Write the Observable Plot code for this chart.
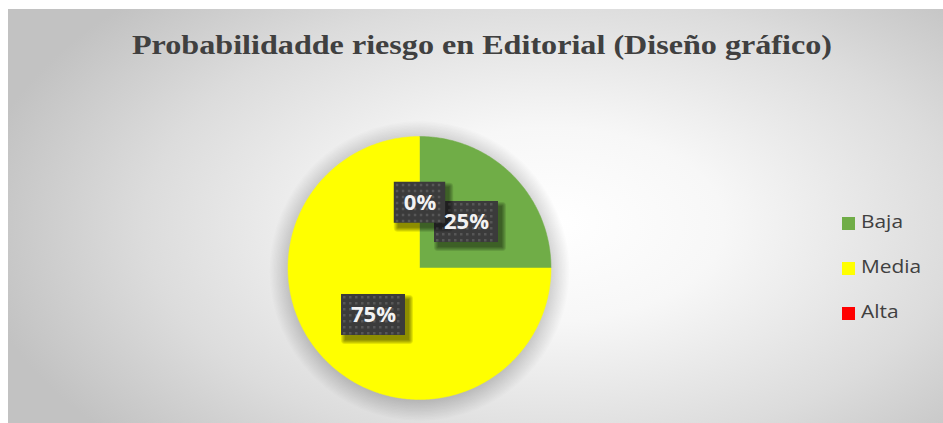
<!DOCTYPE html>
<html>
<head>
<meta charset="utf-8">
<script src="https://cdn.jsdelivr.net/npm/d3@7"></script>
<script src="https://cdn.jsdelivr.net/npm/@observablehq/plot@0.6"></script>
<style>
  html, body { margin: 0; padding: 0; background: #ffffff; }
  #wrap { position: relative; width: 943px; height: 423px; overflow: hidden; background: #ffffff; }
  #bg { position: absolute; left: 8px; top: 9px; right: 0; bottom: 0;
        background: radial-gradient(ellipse 62% 78% at 58% 52%, #ffffff 0%, #f7f7f7 30%, #dcdcdc 70%, #c2c2c2 100%); }
  #title { position: absolute; left: 0; width: 964px; top: 32px; text-align: center;
           font: bold 27px/27px "Liberation Serif", "Times New Roman", serif; color: #404040; white-space: nowrap;
           transform: scaleX(1.19); transform-origin: 482px 0; }
  #chart { position: absolute; left: 0; top: 0; }
  .lg { position: absolute; left: 842px; height: 20px; }
  .lg .sw { position: absolute; left: 0; width: 13px; height: 13px; }
  .lg .tx { position: absolute; left: 19px; top: 0; font: 19px/19px "Open Sans", sans-serif; color: #404040; white-space: nowrap;
            transform: scaleX(1.1); transform-origin: 0 0; }
</style>
</head>
<body>
<div id="wrap">
  <div id="bg"></div>
  <div id="title"></div>
  <div id="chart"></div>
  <div id="legend"></div>
</div>
<script>
// ---- data ----
const titleText = "Probabilidadde riesgo en Editorial (Diseño gráfico)";
const categories = ["Baja", "Media", "Alta"];
const values = [25, 75, 0];
const labels = ["25%", "75%", "0%"];
const colors = ["#70AD47", "#FFFF00", "#FF0000"];

document.getElementById("title").textContent = titleText;

// ---- pie layout (data space: unit circle) ----
const rows = categories.map((c, i) => ({cat: c, value: values[i], label: labels[i]}));
const arcs = d3.pie().sort(null).value(d => d.value)(rows);

function slicePolygon(a) {
  const pts = [[0, 0]];
  const n = Math.max(2, Math.ceil((a.endAngle - a.startAngle) / 0.01));
  for (let k = 0; k <= n; k++) {
    const t = a.startAngle + (a.endAngle - a.startAngle) * k / n;
    pts.push([Math.sin(t), Math.cos(t)]);
  }
  return pts;
}

const labelPoints = arcs.map(a => {
  const m = (a.startAngle + a.endAngle) / 2;
  return {cat: a.data.cat, label: a.data.label, x: 0.5 * Math.sin(m), y: 0.5 * Math.cos(m)};
});

const LABEL_FONT = "bold 22px 'Open Sans'";
const ctx2d = document.createElement("canvas").getContext("2d");
ctx2d.font = LABEL_FONT;

// function mark: pie slices + soft glow, drawn through Plot's scales
function pieMark(index, scales) {
  const g = d3.create("svg:g").attr("aria-label", "pie");
  const cx = scales.x(0), cy = scales.y(0);
  const R = Math.abs(scales.x(1) - scales.x(0));
  for (let k = 16; k >= 1; k--) {
    g.append("circle").attr("cx", cx).attr("cy", cy + 3).attr("r", R - 4 + k * 1.4)
      .attr("fill", "#000").attr("fill-opacity", 0.01);
  }
  const line = d3.line();
  arcs.forEach(a => {
    if (a.endAngle - a.startAngle <= 0) return;
    const pts = slicePolygon(a).map(([x, y]) => [scales.x(x), scales.y(y)]);
    g.append("path").attr("d", line(pts) + "Z")
      .attr("fill", scales.color(a.data.cat)).attr("stroke", scales.color(a.data.cat)).attr("stroke-width", 0.5);
  });
  return g.node();
}

// function mark: dark dotted label boxes with soft shadow
function boxMark(index, scales) {
  const g = d3.create("svg:g").attr("aria-label", "label-boxes");
  labelPoints.forEach(p => {
    const tw = ctx2d.measureText(p.label).width;
    const w = tw + 19, h = 41;
    const x0 = scales.x(p.x) - w / 2, y0 = scales.y(p.y) - h / 2;
    for (let k = 4; k >= 0; k--) {
      g.append("rect").attr("x", x0 + 4 - k).attr("y", y0 + 5 - k)
        .attr("width", w + 2 * k).attr("height", h + 2 * k).attr("rx", k)
        .attr("fill", "#000").attr("fill-opacity", 0.11);
    }
    g.append("rect").attr("x", x0).attr("y", y0).attr("width", w).attr("height", h).attr("fill", "#3b3b3b");
    for (let yy = y0 + 2; yy + 2 <= y0 + h; yy += 6) {
      for (let xx = x0 + 2; xx + 2 <= x0 + w; xx += 6) {
        g.append("rect").attr("x", xx).attr("y", yy).attr("width", 2.5).attr("height", 2.5).attr("fill", "#575757");
      }
    }
  });
  return g.node();
}

const plot = Plot.plot({
  width: 943,
  height: 423,
  margin: 0,
  style: {background: "transparent", overflow: "visible"},
  x: {domain: [-1, 1], range: [288, 551], axis: null},
  y: {domain: [-1, 1], range: [399.5, 136.5], axis: null},
  color: {domain: categories, range: colors},
  marks: [
    pieMark,
    boxMark,
    Plot.text(labelPoints, {x: "x", y: "y", text: "label", fill: "#f2f2f2", fontSize: 22, fontWeight: "bold",
      fontFamily: "Open Sans, sans-serif", textAnchor: "middle", lineAnchor: "middle", ariaLabel: "labels"})
  ]
});
document.getElementById("chart").appendChild(plot);

// legend
const lg = document.getElementById("legend");
categories.forEach((c, i) => {
  const item = document.createElement("div");
  item.className = "lg";
  item.style.top = (212 + i * 45) + "px";
  item.innerHTML = `<div class="sw" style="top:5px;background:${colors[i]}"></div><div class="tx"></div>`;
  item.querySelector(".tx").textContent = c;
  lg.appendChild(item);
});
</script>
</body>
</html>
